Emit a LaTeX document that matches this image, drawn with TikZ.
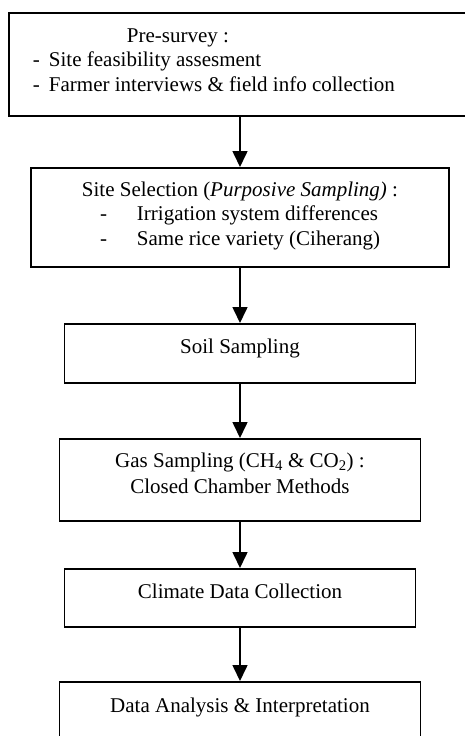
\documentclass[tikz,border=0pt]{standalone}
\usepackage{fontspec}
\setmainfont{Liberation Serif}
\usetikzlibrary{arrows.meta}

\tikzset{
  stage/.style={draw, line width=1.5pt, inner sep=0pt, anchor=north,
    font=\fontsize{21}{24.5}\selectfont},
  flow/.style={line width=1.6pt, -{Triangle[length=16pt,width=15pt]}}
}
% box body: width, height, text (first line dropped by a strut)
\newcommand{\stagebody}[3]{\parbox[t][#2][t]{#1}{#3}}

\begin{document}
\begin{tikzpicture}[x=1pt,y=-1pt]
  \useasboundingbox (0,0) rectangle (465,736);
  \clip (0,0) rectangle (465,736);

  \node[stage] (pre) at (240,12) {\stagebody{462pt}{103pt}{\raggedright
    \rule{0pt}{29.7pt}\hspace*{118pt}Pre-survey :\\
    \hspace*{24pt}\makebox[16pt][l]{-}Site feasibility assesment\\
    \hspace*{24pt}\makebox[16pt][l]{-}Farmer interviews \& field info collection}};

  \node[stage] (site) at (240,167) {\stagebody{418pt}{99pt}{\raggedright
    \makebox[418pt]{\rule{0pt}{28.7pt}Site Selection (\textit{Purposive Sampling)} :}\\
    \hspace*{69pt}\makebox[37pt][l]{-}Irrigation system differences\\
    \hspace*{69pt}\makebox[37pt][l]{-}Same rice variety (Ciherang)}};

  \node[stage] (soil) at (240,323) {\stagebody{351pt}{59pt}{\centering
    \rule{0pt}{30pt}Soil Sampling}};

  \node[stage] (gas) at (240,438) {\stagebody{361pt}{82pt}{\centering
    \rule{0pt}{29pt}Gas Sampling (CH\textsubscript{4} \& CO\textsubscript{2}) :\\[1.5pt]
    Closed Chamber Methods}};

  \node[stage] (climate) at (240,568) {\stagebody{351pt}{58pt}{\centering
    \rule{0pt}{30pt}Climate Data Collection}};

  \node[stage] (analysis) at (240,681) {\stagebody{361pt}{80pt}{\centering
    \rule{0pt}{31pt}Data Analysis \& Interpretation}};

  \draw[flow] (pre) -- (site);
  \draw[flow] (site) -- (soil);
  \draw[flow] (soil) -- (gas);
  \draw[flow] (gas) -- (climate);
  \draw[flow] (climate) -- (analysis);

\end{tikzpicture}
\end{document}
